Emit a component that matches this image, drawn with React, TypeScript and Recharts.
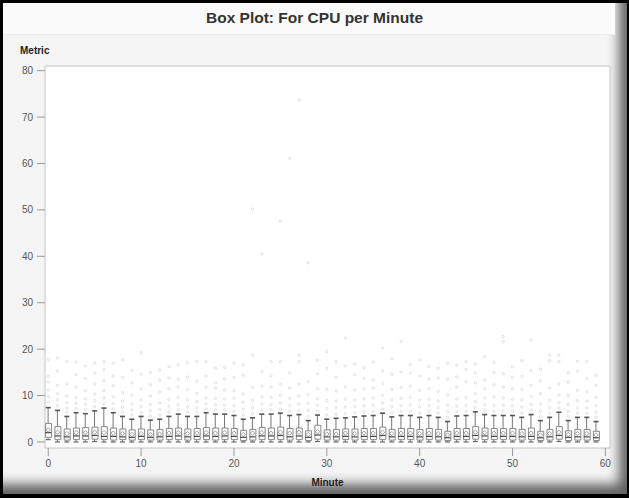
import {
  ComposedChart,
  XAxis,
  YAxis,
  Bar,
  Scatter,
  CartesianGrid,
  ReferenceArea,
} from "recharts";

// minute buckets 0..59
const minutes = Array.from({ length: 60 }, (_, i) => i);

const whiskerLow = [
  0.5, 0, 0, 0, 0, 0.1, 0, 0, 0, 0, 0, 0, 0, 0, 0, 0, 0, 0, 0, 0,
  0, 0, 0, 0, 0, 0, 0, 0, 0, 0.1, 0, 0, 0, 0, 0, 0, 0, 0, 0, 0,
  0, 0, 0, 0, 0, 0, 0.1, 0, 0, 0, 0, 0, 0, 0, 0, 0.1, 0, 0, 0, 0,
];

const q1 = [
  1.0, 0.5, 0.4, 0.5, 0.5, 0.6, 0.5, 0.4, 0.5, 0.4, 0.5, 0.4, 0.4, 0.5, 0.5, 0.4, 0.5, 0.5, 0.4, 0.5,
  0.5, 0.3, 0.4, 0.5, 0.5, 0.5, 0.4, 0.5, 0.3, 0.6, 0.4, 0.4, 0.5, 0.4, 0.5, 0.5, 0.5, 0.4, 0.5, 0.5,
  0.4, 0.5, 0.4, 0.3, 0.5, 0.5, 0.6, 0.5, 0.5, 0.5, 0.4, 0.4, 0.5, 0.3, 0.4, 0.6, 0.3, 0.4, 0.4, 0.3,
];

const median = [
  2.0, 1.3, 1.1, 1.3, 1.3, 1.4, 1.2, 1.2, 1.1, 1.0, 1.2, 1.0, 1.1, 1.2, 1.3, 1.1, 1.2, 1.3, 1.2, 1.3,
  1.2, 1.0, 1.1, 1.3, 1.3, 1.4, 1.1, 1.3, 1.0, 1.5, 1.1, 1.1, 1.2, 1.1, 1.2, 1.2, 1.4, 1.1, 1.2, 1.2,
  1.1, 1.2, 1.1, 0.9, 1.2, 1.2, 1.4, 1.3, 1.2, 1.2, 1.2, 1.1, 1.2, 0.9, 1.1, 1.4, 1.0, 1.1, 1.1, 0.9,
];

const mean = [
  2.6, 2.1, 1.8, 2.0, 2.0, 2.1, 2.0, 1.9, 1.8, 1.6, 1.8, 1.6, 1.7, 1.9, 2.0, 1.8, 1.9, 2.0, 1.9, 2.0,
  1.9, 1.6, 1.9, 2.0, 1.9, 2.1, 1.9, 2.1, 1.6, 2.2, 1.7, 1.7, 1.9, 1.8, 1.9, 1.9, 2.1, 1.8, 1.9, 1.9,
  1.8, 1.9, 1.8, 1.5, 1.9, 1.9, 2.1, 2.0, 1.9, 1.9, 1.9, 1.8, 1.9, 1.5, 1.8, 2.1, 1.6, 1.8, 1.8, 1.5,
];

const q3 = [
  4.0, 3.3, 2.8, 3.0, 3.1, 3.2, 3.3, 3.0, 2.8, 2.6, 2.8, 2.6, 2.7, 2.9, 3.0, 2.8, 2.9, 3.1, 3.0, 3.0,
  2.9, 2.5, 2.7, 3.1, 3.0, 3.2, 2.9, 3.0, 2.4, 3.6, 2.6, 2.7, 2.8, 2.8, 2.9, 2.9, 3.2, 2.7, 2.9, 2.9,
  2.7, 2.9, 2.7, 2.3, 2.9, 2.9, 3.3, 3.0, 2.9, 2.9, 2.9, 2.7, 3.0, 2.3, 2.7, 3.3, 2.4, 2.7, 2.7, 2.3,
];

const whiskerHigh = [
  7.4, 6.8, 5.5, 6.3, 6.1, 6.7, 7.3, 6.3, 5.5, 4.9, 5.5, 4.7, 4.9, 5.5, 6.0, 5.5, 5.5, 6.3, 6.0, 6.0,
  5.7, 4.9, 5.2, 6.0, 6.0, 6.2, 5.7, 5.9, 4.6, 5.8, 4.9, 5.1, 5.2, 5.4, 5.6, 5.7, 6.2, 5.4, 5.7, 5.7,
  5.3, 5.7, 5.3, 4.4, 5.6, 5.7, 6.5, 5.9, 5.7, 5.7, 5.7, 5.3, 5.9, 4.6, 5.3, 6.4, 4.6, 5.3, 5.3, 4.4,
];

const outliers = [
  [8.6, 9.8, 11.2, 12.9, 14.1, 17.8],
  [7.8, 9.1, 10.4, 12.2, 15.3, 18.1],
  [6.4, 7.3, 8.5, 9.9, 12.6, 17.3],
  [7.2, 8.4, 9.6, 11.8, 14.5, 17.2],
  [7.0, 8.1, 9.3, 11.0, 13.7, 16.4],
  [7.6, 8.9, 10.3, 12.5, 14.8, 17.0],
  [8.2, 9.5, 11.1, 13.2, 15.6, 17.3],
  [7.1, 8.3, 9.8, 12.1, 14.2, 16.9],
  [6.4, 7.5, 8.8, 10.6, 13.9, 17.7],
  [5.8, 6.9, 8.2, 10.1, 12.7, 15.4],
  [6.3, 7.6, 9.0, 11.4, 14.6, 19.2],
  [5.6, 6.7, 8.1, 9.9, 12.3, 15.0],
  [5.8, 7.0, 8.4, 10.7, 13.3, 15.5],
  [6.4, 7.7, 9.2, 11.5, 13.8, 16.2],
  [6.9, 8.0, 9.6, 11.9, 13.5, 16.6],
  [6.4, 7.6, 9.1, 11.3, 14.0, 17.1],
  [6.4, 7.4, 8.7, 10.5, 13.1, 17.3],
  [7.1, 8.2, 9.5, 11.8, 14.2, 17.3],
  [6.9, 8.0, 9.4, 11.6, 12.8, 15.9],
  [6.9, 7.9, 9.3, 11.2, 13.6, 16.1],
  [6.6, 7.8, 9.4, 11.0, 13.9, 17.0],
  [5.8, 7.1, 8.6, 10.3, 14.4, 16.6],
  [6.1, 7.4, 9.0, 11.7, 18.7, 50.2],
  [6.9, 8.2, 9.7, 12.0, 15.2, 40.5],
  [6.9, 8.1, 9.6, 11.8, 14.3, 17.3],
  [7.1, 8.4, 10.0, 12.4, 17.3, 47.6],
  [6.6, 7.9, 9.4, 11.6, 14.9, 61.1],
  [6.8, 8.2, 9.9, 12.5, 17.3, 18.7, 73.7],
  [5.5, 6.8, 8.3, 10.2, 13.0, 38.6],
  [6.7, 7.9, 9.3, 11.5, 14.7, 17.6],
  [5.8, 7.2, 8.9, 11.3, 15.8, 19.5],
  [6.0, 7.3, 8.8, 11.0, 13.9, 17.3],
  [6.1, 7.5, 9.2, 11.9, 16.4, 22.4],
  [6.3, 7.6, 9.0, 11.2, 14.5, 16.8],
  [6.5, 7.8, 9.3, 11.4, 13.7, 16.0],
  [6.6, 7.9, 9.5, 11.6, 13.4, 17.2],
  [7.1, 8.4, 10.0, 12.6, 15.3, 20.2],
  [6.3, 7.6, 9.1, 11.3, 14.6, 17.9],
  [6.6, 7.8, 9.4, 11.7, 15.1, 21.6],
  [6.6, 7.9, 9.6, 12.0, 14.8, 16.7],
  [6.2, 7.5, 9.0, 11.1, 14.2, 17.7],
  [6.6, 7.8, 9.2, 11.5, 13.6, 16.3],
  [6.2, 7.4, 8.8, 10.9, 13.8, 15.9],
  [5.3, 6.5, 7.9, 10.2, 13.5, 17.0],
  [6.5, 7.7, 9.3, 11.8, 14.0, 16.5],
  [6.6, 7.9, 9.6, 13.0, 15.6, 17.3],
  [7.4, 8.7, 10.4, 12.7, 14.9, 16.8],
  [6.8, 8.0, 9.5, 11.4, 13.4, 18.4],
  [6.6, 7.9, 9.7, 12.3, 15.0, 17.1],
  [6.6, 7.9, 9.5, 11.8, 14.7, 21.6, 22.7],
  [6.6, 7.8, 9.2, 11.4, 13.9, 16.2],
  [6.2, 7.5, 9.1, 11.3, 14.1, 17.5],
  [6.8, 8.1, 9.8, 12.2, 15.4, 21.9],
  [5.5, 6.7, 8.2, 10.4, 13.2, 15.7],
  [6.2, 7.4, 9.0, 11.6, 17.5, 18.7],
  [7.3, 8.5, 10.1, 12.5, 17.3, 18.7],
  [5.5, 6.6, 8.1, 10.0, 12.9, 14.9],
  [6.2, 7.4, 8.9, 11.1, 15.2, 17.4],
  [6.2, 7.3, 8.8, 10.8, 13.7, 17.3],
  [5.3, 6.4, 7.8, 9.6, 12.2, 14.4],
];

const xTicks = [0, 10, 20, 30, 40, 50, 60];
const yTicks = [0, 10, 20, 30, 40, 50, 60, 70, 80];

const rows = minutes.map((m, i) => ({
  minute: m,
  lo: whiskerLow[i],
  q1: q1[i],
  median: median[i],
  mean: mean[i],
  q3: q3[i],
  hi: whiskerHigh[i],
}));

const outlierRows = outliers.flatMap((vals, i) =>
  vals.map((v) => ({ minute: minutes[i], value: v }))
);

const X_DOMAIN: [number, number] = [-0.35, 60.5];
const Y_DOMAIN: [number, number] = [-1.3, 81];
const FONT = "'Liberation Sans', Arial, sans-serif";

function hLine(w: number, color: string, sw: number) {
  return (p: any) =>
    p.cx == null ? (
      <g />
    ) : (
      <line
        x1={p.cx - w / 2}
        x2={p.cx + w / 2}
        y1={p.cy}
        y2={p.cy}
        stroke={color}
        strokeWidth={sw}
      />
    );
}

const MeanMark = (p: any) =>
  p.cx == null ? (
    <g />
  ) : (
    <path
      d={`M${p.cx},${p.cy - 2.2} L${p.cx + 2.2},${p.cy} L${p.cx},${p.cy + 2.2} L${p.cx - 2.2},${p.cy} Z`}
      fill="none"
      stroke="#888"
      strokeWidth={0.8}
    />
  );

const OutlierMark = (p: any) =>
  p.cx == null ? (
    <g />
  ) : (
    <circle cx={p.cx} cy={p.cy} r={1.2} fill="none" stroke="#bbb" strokeWidth={0.7} opacity={0.6} />
  );

const tickStyle = { fontSize: 10, fill: "#555", fontFamily: FONT };

export default function App() {
  return (
    <div
      style={{
        position: "absolute",
        left: 0,
        top: 0,
        width: 629,
        height: 498,
        background: "#000",
        fontFamily: FONT,
        overflow: "hidden",
      }}
    >
      <div
        style={{
          position: "absolute",
          left: 3,
          top: 3,
          width: 624,
          height: 491,
          background: "#f5f5f5",
          boxShadow: "inset -13px -15px 12px -5px rgba(0,0,0,0.6)",
        }}
      />
      <div
        style={{
          position: "absolute",
          left: 3,
          top: 3,
          width: 612,
          height: 31,
          background: "#fbfbfb",
          borderBottom: "1px solid #ececec",
        }}
      />
      <div
        style={{
          position: "absolute",
          left: 0,
          top: 9,
          width: 629,
          textAlign: "center",
          fontSize: 15.5,
          fontWeight: "bold",
          color: "#333",
        }}
      >
        Box Plot: For CPU per Minute
      </div>
      <div
        style={{
          position: "absolute",
          left: 20,
          top: 45,
          fontSize: 10,
          fontWeight: "bold",
          color: "#222",
        }}
      >
        Metric
      </div>
      <div
        style={{
          position: "absolute",
          left: 0,
          top: 477,
          width: 655,
          textAlign: "center",
          fontSize: 10,
          fontWeight: "bold",
          color: "#222",
        }}
      >
        Minute
      </div>
      <div style={{ position: "absolute", left: 0, top: 0 }}>
        <ComposedChart
          width={629}
          height={498}
          data={rows}
          margin={{ top: 66, right: 19, bottom: 20, left: 0 }}
        >
          <CartesianGrid fill="#fff" horizontal={false} vertical={false} xAxisId="m" />
          <XAxis
            xAxisId="m"
            type="number"
            dataKey="minute"
            domain={X_DOMAIN}
            allowDataOverflow
            ticks={xTicks}
            interval={0}
            height={30}
            axisLine={false}
            tickLine={{ stroke: "#999" }}
            tickSize={8}
            tickMargin={4}
            tick={tickStyle}
          />
          <XAxis xAxisId="w" type="number" dataKey="minute" domain={X_DOMAIN} allowDataOverflow hide height={0} />
          <XAxis xAxisId="b" type="number" dataKey="minute" domain={X_DOMAIN} allowDataOverflow hide height={0} />
          <YAxis
            type="number"
            domain={Y_DOMAIN}
            allowDataOverflow
            ticks={yTicks}
            interval={0}
            width={45}
            axisLine={false}
            tickLine={{ stroke: "#999" }}
            tickSize={8}
            tickMargin={4}
            tick={tickStyle}
          />
          <ReferenceArea
            xAxisId="m"
            x1={X_DOMAIN[0]}
            x2={X_DOMAIN[1]}
            y1={Y_DOMAIN[0]}
            y2={Y_DOMAIN[1]}
            fill="none"
            fillOpacity={0}
            stroke="#c4c4c4"
            strokeWidth={1}
            ifOverflow="visible"
          />
          <Bar
            xAxisId="w"
            dataKey={(d: any) => [d.lo, d.hi]}
            barSize={1}
            fill="#777"
            isAnimationActive={false}
          />
          <Bar
            xAxisId="b"
            dataKey={(d: any) => [d.q1, d.q3]}
            barSize={6}
            fill="#fff"
            stroke="#888"
            strokeWidth={1}
            isAnimationActive={false}
          />
          <Scatter xAxisId="m" dataKey="hi" shape={hLine(5, "#555", 1.6)} isAnimationActive={false} />
          <Scatter xAxisId="m" dataKey="lo" shape={hLine(5, "#666", 1.2)} isAnimationActive={false} />
          <Scatter xAxisId="m" dataKey="median" shape={hLine(6, "#444", 1.2)} isAnimationActive={false} />
          <Scatter xAxisId="m" dataKey="mean" shape={MeanMark} isAnimationActive={false} />
          <Scatter
            xAxisId="m"
            data={outlierRows}
            dataKey="value"
            shape={OutlierMark}
            isAnimationActive={false}
          />
        </ComposedChart>
      </div>
    </div>
  );
}
